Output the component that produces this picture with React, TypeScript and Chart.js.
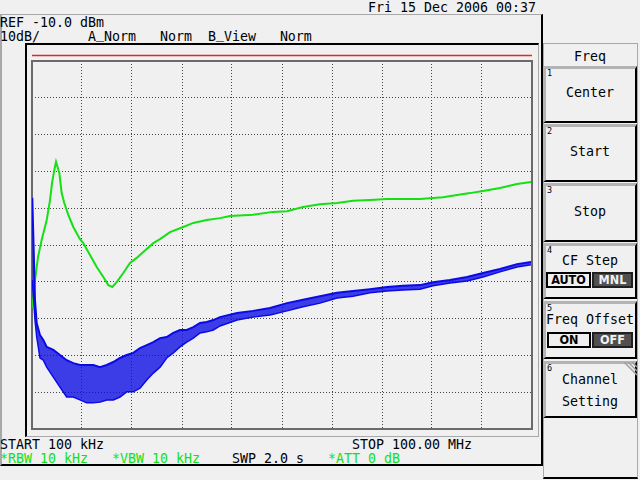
import React, { useEffect, useRef } from "react";
import { Chart, registerables } from "chart.js";

Chart.register(...registerables);

// ---- data (frequency in MHz, level in dBm) ----
const freqStartMHz = 0.1;
const freqStopMHz = 100;
const refLevelDbm = -10;
const bottomLevelDbm = -110;
const displayLineDbm = -8.5;

const greenFreq = [0.16, 0.7, 1.3, 2.04, 3.04, 3.7, 4.1, 4.56, 4.9, 5.56, 6.03, 6.55, 7.35, 8.35, 9.69, 10.35, 11.69, 13.03, 14.35, 15.35, 16.14, 17.02, 18.34, 19.68, 21.02, 22.34, 24.34, 25.68, 27.67, 30.33, 32.33, 35.0, 37.66, 39.66, 44.26, 48.25, 51.05, 54.25, 57.64, 61.04, 64.24, 67.63, 71.03, 74.23, 77.62, 82.22, 85.02, 87.62, 90.21, 93.61, 97.0, 99.8];
const greenLevel = [-77.1, -69.5, -63.3, -58.6, -53.2, -47.8, -43.2, -39.6, -37.4, -40.4, -45.9, -48.6, -51.8, -55.1, -58.4, -59.5, -62.7, -66.0, -68.7, -70.9, -71.4, -70.1, -67.6, -64.9, -63.5, -61.9, -59.5, -58.4, -56.5, -55.1, -54.0, -53.2, -52.7, -52.1, -51.8, -51.0, -50.8, -49.7, -48.9, -48.6, -48.0, -47.8, -47.5, -47.5, -47.5, -47.0, -46.4, -45.9, -45.3, -44.5, -43.4, -42.9];

const blueFreq = [0.16, 0.7, 1.04, 1.7, 2.36, 3.04, 4.36, 5.69, 7.03, 8.35, 9.69, 11.03, 12.35, 13.69, 15.03, 16.34, 17.68, 19.02, 20.34, 21.68, 23.02, 24.34, 25.68, 27.01, 28.33, 29.67, 31.01, 32.33, 33.67, 35.01, 36.33, 37.66, 41.07, 44.26, 47.66, 51.05, 54.25, 57.64, 61.04, 64.24, 67.63, 71.03, 74.23, 77.62, 80.22, 83.62, 87.02, 90.21, 93.61, 97.0, 99.8];
const blueUpper = [-47.2, -75.0, -81.2, -84.5, -85.8, -87.7, -88.5, -89.9, -91.3, -92.1, -92.6, -92.6, -92.6, -93.2, -92.6, -91.8, -90.7, -89.9, -89.3, -88.0, -87.2, -86.4, -85.3, -85.0, -83.9, -83.1, -83.1, -82.3, -81.2, -80.9, -80.4, -79.6, -78.5, -77.9, -77.1, -75.8, -74.9, -73.9, -73.0, -72.5, -72.0, -71.4, -71.1, -70.9, -70.1, -69.5, -68.7, -67.6, -66.5, -65.2, -64.6];
const blueLower = [-69.5, -80.4, -85.0, -90.7, -91.3, -93.2, -95.9, -98.6, -101.3, -101.3, -102.1, -102.9, -102.9, -102.7, -102.1, -102.1, -101.3, -99.9, -99.9, -98.9, -96.7, -94.8, -93.2, -90.7, -89.3, -87.7, -86.4, -85.3, -83.9, -83.6, -83.1, -82.0, -80.4, -79.6, -79.0, -77.9, -76.8, -75.8, -74.4, -73.9, -73.0, -72.5, -72.2, -72.0, -71.1, -70.3, -69.8, -68.7, -67.3, -66.0, -65.4];

const GREEN = "#14e014";
const BLUE = "#0a0ae6";
const RED = "#e02828";
const BG = "#f0f0f0";
const MONO = "'DejaVu Sans Mono', monospace";
const COND = "'DejaVu Sans Condensed', 'DejaVu Sans', sans-serif";

const framePlugin = {
  id: "gridFrame",
  beforeDatasetsDraw(chart: any) {
    const { ctx, chartArea } = chart;
    ctx.save();
    ctx.strokeStyle = "#6a6a6a";
    ctx.lineWidth = 2;
    ctx.strokeRect(chartArea.left, chartArea.top, chartArea.right - chartArea.left, chartArea.bottom - chartArea.top);
    ctx.restore();
  },
};

function SpectrumChart() {
  const ref = useRef<HTMLCanvasElement | null>(null);
  useEffect(() => {
    if (!ref.current) return;
    const chart = new Chart(ref.current, {
      type: "line",
      data: {
        datasets: [
          {
            label: "Display line",
            data: [
              { x: freqStartMHz, y: displayLineDbm },
              { x: freqStopMHz, y: displayLineDbm },
            ],
            borderColor: RED,
            borderWidth: 1.3,
            pointRadius: 0,
            clip: false as any,
          },
          {
            label: "B lower",
            data: blueFreq.map((f, i) => ({ x: f, y: blueLower[i] })),
            borderColor: BLUE,
            borderWidth: 1.5,
            pointRadius: 0,
            fill: false,
          },
          {
            label: "B_View",
            data: blueFreq.map((f, i) => ({ x: f, y: blueUpper[i] })),
            borderColor: BLUE,
            borderWidth: 2,
            pointRadius: 0,
            fill: "-1",
            backgroundColor: "rgba(10,10,230,0.78)",
          },
          {
            label: "A_Norm",
            data: greenFreq.map((f, i) => ({ x: f, y: greenLevel[i] })),
            borderColor: GREEN,
            borderWidth: 2,
            pointRadius: 0,
            fill: false,
          },
        ],
      },
      options: {
        animation: false,
        responsive: false,
        maintainAspectRatio: false,
        layout: { padding: { left: 5, top: 16, right: 5, bottom: 6 } },
        plugins: { legend: { display: false }, tooltip: { enabled: false } },
        scales: {
          x: {
            type: "linear",
            min: freqStartMHz,
            max: freqStopMHz,
            ticks: { display: false },
            grid: { color: "#444", lineWidth: 1, drawTicks: false },
            border: { display: false, dash: [1, 2] },
            afterBuildTicks: (scale: any) => {
              const t = [];
              for (let i = 0; i <= 10; i++) t.push({ value: freqStartMHz + ((freqStopMHz - freqStartMHz) * i) / 10 });
              scale.ticks = t;
            },
          },
          y: {
            type: "linear",
            min: bottomLevelDbm,
            max: refLevelDbm,
            ticks: { display: false, stepSize: 10 },
            grid: { color: "#444", lineWidth: 1, drawTicks: false },
            border: { display: false, dash: [1, 2] },
          },
        },
      },
      plugins: [framePlugin],
    });
    return () => chart.destroy();
  }, []);
  return (
    <canvas
      ref={ref}
      width={510}
      height={390}
      style={{ position: "absolute", left: 27, top: 45, width: 510, height: 390, display: "block" }}
    />
  );
}

function T(props: { x: number; y: number; c?: string; s?: number; children: any; w?: number; center?: boolean }) {
  return (
    <div
      style={{
        position: "absolute",
        left: props.x,
        top: props.y,
        width: props.w,
        textAlign: props.center ? "center" : "left",
        color: props.c || "#000",
        fontFamily: MONO,
        fontSize: props.s || 13.29,
        whiteSpace: "pre",
        lineHeight: "normal",
      }}
    >
      {props.children}
    </div>
  );
}

const U = () => <span style={{ position: "relative", top: -3 }}>_</span>;

function Btn(props: { top: number; h: number; n: string; children?: any }) {
  return (
    <div
      style={{
        position: "absolute",
        left: 543,
        top: props.top,
        width: 94,
        height: props.h,
        boxSizing: "border-box",
        borderTop: "3px solid #b4b4b4",
        borderLeft: "3px solid #b4b4b4",
        borderBottom: "2px solid #000",
        borderRight: "2px solid #000",
        background: BG,
      }}
    >
      <div style={{ position: "absolute", left: 1, top: -1, fontFamily: MONO, fontSize: 8.5, color: "#000" }}>{props.n}</div>
      {props.children}
    </div>
  );
}

function Toggle(props: { x: number; y: number; w: number; label: string; on: boolean }) {
  return (
    <div
      style={{
        position: "absolute",
        left: props.x,
        top: props.y,
        width: props.w,
        height: 16,
        boxSizing: "border-box",
        border: props.on ? "2px solid #000" : "2px solid #202020",
        background: props.on ? BG : "#505050",
        color: props.on ? "#000" : "#f0f0f0",
        fontFamily: COND,
        fontWeight: "bold",
        fontSize: 12.5,
        lineHeight: "12px",
        textAlign: "center",
      }}
    >
      {props.label}
    </div>
  );
}

export default function App() {
  return (
    <div style={{ position: "fixed", left: 0, top: 0, width: 640, height: 480, background: BG, overflow: "hidden" }}>
      {/* main display panel */}
      <div
        style={{
          position: "absolute",
          left: 0,
          top: 14,
          width: 543,
          height: 452,
          boxSizing: "border-box",
          borderTop: "1px solid #a8a8a8",
          borderLeft: "2px solid #a8a8a8",
          borderRight: "2px solid #000",
          borderBottom: "2px solid #000",
        }}
      />
      {/* chart frame */}
      <div
        style={{
          position: "absolute",
          left: 25,
          top: 43,
          width: 514,
          height: 394,
          boxSizing: "border-box",
          borderTop: "2px solid #000",
          borderLeft: "2px solid #000",
          borderRight: "1px solid #a8a8a8",
          borderBottom: "1px solid #a8a8a8",
        }}
      />
      <SpectrumChart />

      <T x={368} y={0}>Fri 15 Dec 2006 00:37</T>
      <T x={0} y={15}>REF -10.0 dBm</T>
      <T x={0} y={29}>
        {"10dB/      A"}
        <U />
        {"Norm   Norm  B"}
        <U />
        {"View   Norm"}
      </T>
      <T x={0} y={437}>START 100 kHz</T>
      <T x={352} y={437}>STOP 100.00 MHz</T>
      <T x={0} y={451} c={GREEN}>*RBW 10 kHz</T>
      <T x={112} y={451} c={GREEN}>*VBW 10 kHz</T>
      <T x={232} y={451}>SWP 2.0 s</T>
      <T x={328} y={451} c={GREEN}>*ATT 0 dB</T>

      {/* soft-key panel */}
      <div
        style={{
          position: "absolute",
          left: 543,
          top: 43,
          width: 95,
          height: 436,
          boxSizing: "border-box",
          borderTop: "1px solid #a8a8a8",
          borderLeft: "1px solid #a8a8a8",
          borderRight: "1px solid #a8a8a8",
          borderBottom: "2px solid #000",
        }}
      />
      <T x={543} y={49} w={94} center>Freq</T>
      <Btn top={66} h={57} n="1" />
      <T x={543} y={85} w={94} center>Center</T>
      <Btn top={124} h={58} n="2" />
      <T x={543} y={144} w={94} center>Start</T>
      <Btn top={183} h={59} n="3" />
      <T x={543} y={204} w={94} center>Stop</T>
      <Btn top={243} h={56} n="4" />
      <T x={543} y={253} w={94} center>CF Step</T>
      <Toggle x={546} y={272} w={45} label="AUTO" on={true} />
      <Toggle x={592} y={272} w={41} label="MNL" on={false} />
      <Btn top={301} h={58} n="5" />
      <T x={543} y={312} w={94} center>Freq Offset</T>
      <Toggle x={547} y={332} w={44} label="ON" on={true} />
      <Toggle x={592} y={332} w={41} label="OFF" on={false} />
      <Btn top={361} h={57} n="6" />
      <svg style={{ position: "absolute", left: 621, top: 362 }} width={16} height={16}>
        <line x1={3} y1={0} x2={16} y2={13} stroke="#a0a0a0" strokeWidth={1.5} />
        <line x1={7} y1={0} x2={16} y2={9} stroke="#a0a0a0" strokeWidth={1.5} />
        <line x1={11} y1={0} x2={16} y2={5} stroke="#a0a0a0" strokeWidth={1.5} />
      </svg>
      <T x={543} y={372} w={94} center>Channel</T>
      <T x={543} y={394} w={94} center>Setting</T>
    </div>
  );
}
